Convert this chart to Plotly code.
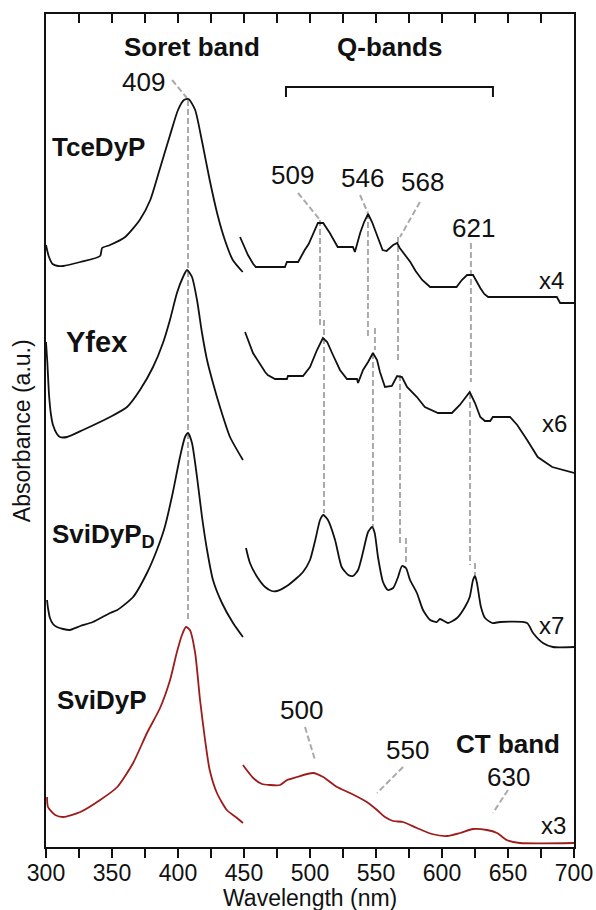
import plotly.graph_objects as go

# ---------------- spectra (wavelength in nm, stacked absorbance in a.u.) ----------------
# TceDyP
tce_soret_wl = [300, 302, 305, 309, 313, 326, 341, 342.5, 348.5, 360, 371, 379, 386, 394, 400,
                404.5, 408, 413, 418, 424, 430, 435.5, 441.5, 449]
tce_soret_abs = [6.02, 5.91, 5.83, 5.81, 5.81, 5.85, 5.91, 5.99, 6.02, 6.10, 6.27, 6.47, 6.77, 7.12, 7.37,
                 7.47, 7.48, 7.37, 7.07, 6.67, 6.32, 6.07, 5.87, 5.75]
tce_q_wl = [447, 450, 453, 457, 459, 481, 482.5, 491, 493, 496, 499, 502, 506, 510, 515, 521, 532.5,
            534, 538, 541, 544, 547, 550, 555, 558, 563, 566, 568, 576, 580, 585, 591, 611, 615, 619,
            623.5, 629, 632, 635, 687, 689.5, 700]
tce_q_abs = [6.10, 6.00, 5.92, 5.83, 5.80, 5.80, 5.85, 5.85, 5.90, 5.97, 6.03, 6.12, 6.24, 6.24, 6.14,
             6.00, 6.00, 5.95, 6.14, 6.25, 6.33, 6.25, 6.15, 5.97, 5.96, 6.02, 6.04, 5.99, 5.85, 5.76,
             5.67, 5.60, 5.60, 5.67, 5.72, 5.72, 5.59, 5.53, 5.50, 5.50, 5.44, 5.44]

# Yfex
yfex_soret_wl = [300, 301, 302.3, 303.8, 305.3, 308.3, 310.6, 316, 328, 348.5, 361.4, 371.2, 381.1,
                 388.6, 393.9, 399.2, 403.8, 406.8, 410.6, 414.4, 418.2, 422, 426.5, 431.8, 439.4, 449.2]
yfex_soret_abs = [5.05, 4.85, 4.52, 4.32, 4.22, 4.13, 4.10, 4.10, 4.17, 4.30, 4.40, 4.57, 4.80,
                  5.04, 5.27, 5.54, 5.70, 5.77, 5.70, 5.47, 5.14, 4.87, 4.64, 4.40, 4.10, 3.87]
yfex_q_wl = [450.8, 456.8, 466, 468, 473.5, 482.5, 483.3, 494.7, 500, 505.3, 509.8, 513, 517.4, 522.7,
             528, 535.6, 536.4, 540.2, 544, 547.7, 550.8, 553, 556.8, 562, 566, 569.7, 573.5, 581, 587,
             597, 607.5, 613.5, 621, 625, 629, 632.5, 636.5, 638.5, 651.5, 657, 664.5, 672.5, 683.5,
             689.5, 694.5, 700]
yfex_q_abs = [5.15, 4.94, 4.75, 4.72, 4.68, 4.68, 4.71, 4.71, 4.80, 4.97, 5.09, 5.05, 4.92, 4.77,
              4.68, 4.68, 4.64, 4.77, 4.85, 4.94, 4.87, 4.75, 4.60, 4.61, 4.71, 4.70, 4.60, 4.50, 4.40,
              4.34, 4.34, 4.42, 4.55, 4.44, 4.30, 4.26, 4.26, 4.30, 4.30, 4.22, 4.07, 3.90, 3.80,
              3.78, 3.76, 3.74]

# SviDyP_D
svd_soret_wl = [300.8, 301.5, 303, 305.3, 308.3, 313, 318, 326, 335.5, 348.5, 354, 366, 376.5, 384,
                390, 396, 401.5, 405.3, 407.6, 410.6, 414.4, 418.2, 422, 426.5, 433.3, 441.7, 449.2]
svd_soret_abs = [2.47, 2.39, 2.29, 2.23, 2.20, 2.18, 2.17, 2.21, 2.25, 2.34, 2.37, 2.50, 2.74, 2.97,
                 3.20, 3.54, 3.90, 4.10, 4.14, 4.04, 3.70, 3.30, 2.97, 2.67, 2.44, 2.24, 2.10]
svd_q_wl = [451.5, 454.5, 460, 466, 471, 475, 482.5, 490, 494.7, 500, 504, 507.6, 510, 513.6, 519,
            524, 529, 532.6, 536.4, 540, 544, 547, 549, 551.5, 555.3, 559, 563, 566.7, 569.7, 572.7,
            575.8, 581, 585.6, 591, 596, 598.5, 604.5, 611.4, 617.4, 621, 623.5, 625, 626.5, 629.5,
            632.6, 638, 644, 664.4, 669, 676.5, 684, 700]
svd_q_abs = [2.99, 2.84, 2.70, 2.60, 2.56, 2.56, 2.61, 2.69, 2.75, 2.87, 3.07, 3.27, 3.32, 3.27, 3.07,
             2.80, 2.72, 2.71, 2.77, 2.94, 3.15, 3.20, 3.14, 2.90, 2.65, 2.57, 2.59, 2.70, 2.81, 2.79,
             2.67, 2.54, 2.37, 2.27, 2.25, 2.28, 2.24, 2.29, 2.40, 2.50, 2.67, 2.71, 2.64, 2.40,
             2.29, 2.24, 2.25, 2.24, 2.14, 2.04, 2.00, 2.00]

# SviDyP
svi_soret_wl = [300.8, 301.5, 307, 313, 326, 341, 354, 366, 376.5, 386.4, 394, 399, 403,
                406, 409, 413, 416.7, 420.5, 424, 429.5, 437, 444.7, 449.2]
svi_soret_abs = [0.50, 0.40, 0.32, 0.30, 0.35, 0.47, 0.60, 0.84, 1.14, 1.39, 1.67, 1.94,
                 2.12, 2.20, 2.17, 1.94, 1.47, 1.07, 0.77, 0.54, 0.37, 0.29, 0.24]
svi_q_wl = [449.2, 457, 463.6, 469.7, 477.3, 482.6, 490, 502.3, 510, 520.5, 530.3, 543, 550.8, 556.8,
            563, 570.5, 581, 592.4, 603.8, 613.6, 623.5, 634, 641.7, 649, 659, 700]
svi_q_abs = [0.82, 0.69, 0.63, 0.62, 0.62, 0.67, 0.70, 0.74, 0.70, 0.60, 0.54, 0.45, 0.37, 0.30,
             0.26, 0.25, 0.19, 0.13, 0.11, 0.14, 0.18, 0.17, 0.14, 0.07, 0.04, 0.04]

# ---------------- peak markers ----------------
soret_line_wl = 407.6
soret_line_abs = [7.47, 2.27]

# vertical guides linking Q-band maxima between spectra: (wavelength, top, bottom)
q_guides = [
    (507.6, 6.27, 5.22), (510.6, 5.27, 3.34),
    (543.9, 6.34, 5.10), (549.2, 5.19, 4.97), (547.7, 4.94, 3.20),
    (566.7, 6.10, 4.87), (568.2, 4.72, 3.04), (572.7, 3.09, 2.84),
    (621.9, 6.04, 4.65), (621.2, 4.54, 2.82), (625.0, 2.84, 2.72),
]

# slanted leaders from peak labels: (wl0, a0, wl1, a1)
leaders = [
    (395.5, 7.67, 406.8, 7.49),
    (490.9, 6.54, 507.6, 6.27),
    (537.9, 6.52, 543.9, 6.34),
    (583.3, 6.45, 568.2, 6.10),
    (496.2, 1.20, 503.8, 0.87),
    (570.5, 0.80, 550.8, 0.54),
    (650.0, 0.57, 638.6, 0.34),
]

peak_labels = ["409", "509", "546", "568", "621", "500", "550", "630"]
peak_label_wl = [374.2, 487.1, 539.4, 585.6, 623.5, 493.2, 573.5, 650.0]
peak_label_abs = [7.65, 6.72, 6.69, 6.65, 6.19, 1.37, 0.97, 0.70]

scale_labels = ["x4", "x6", "x7", "x3"]
scale_label_wl = [683.3, 685.6, 683.3, 684.1]
scale_label_abs = [5.67, 4.24, 2.22, 0.22]

sample_names = ["TceDyP", "Yfex", "SviDyP<sub>D</sub>", "SviDyP"]
sample_wl = [340.0, 338.6, 343.6, 342.4]
sample_abs = [7.00, 5.05, 3.12, 1.47]
sample_size = [26, 29, 26, 26]

band_titles = ["Soret band", "Q-bands", "CT band"]
band_wl = [410.6, 560.6, 650.0]
band_abs = [8.00, 8.00, 1.03]

q_bracket = (481.8, 638.6, 7.60, 7.50)

FONT = "Liberation Sans, Arial, sans-serif"
BLACK = "#111111"
RED = "#9e1b1b"
GUIDE = "#aaaaaa"

fig = go.Figure()

curves = [
    (tce_soret_wl, tce_soret_abs, BLACK, "spline"),
    (tce_q_wl, tce_q_abs, BLACK, "linear"),
    (yfex_soret_wl, yfex_soret_abs, BLACK, "spline"),
    (yfex_q_wl, yfex_q_abs, BLACK, "linear"),
    (svd_soret_wl, svd_soret_abs, BLACK, "spline"),
    (svd_q_wl, svd_q_abs, BLACK, "spline"),
    (svi_soret_wl, svi_soret_abs, RED, "spline"),
    (svi_q_wl, svi_q_abs, RED, "spline"),
]

# dashed guides go under the spectra
fig.add_trace(go.Scatter(x=[soret_line_wl, soret_line_wl], y=soret_line_abs, mode="lines",
                         line=dict(color=GUIDE, width=2, dash="6px,3px"), hoverinfo="skip"))
for wl, a0, a1 in q_guides:
    fig.add_trace(go.Scatter(x=[wl, wl], y=[a0, a1], mode="lines",
                             line=dict(color=GUIDE, width=2, dash="6px,3px"), hoverinfo="skip"))
for w0, a0, w1, a1 in leaders:
    fig.add_trace(go.Scatter(x=[w0, w1], y=[a0, a1], mode="lines",
                             line=dict(color=GUIDE, width=2, dash="6px,3px"), hoverinfo="skip"))

for wl, ab, col, shape in curves:
    kw = dict(shape=shape, color=col, width=1.8)
    if shape == "spline":
        kw["smoothing"] = 0.6
    fig.add_trace(go.Scatter(x=wl, y=ab, mode="lines", line=kw, hoverinfo="skip"))

# bracket over the Q-band region
b0, b1, btop, bbot = q_bracket
fig.add_trace(go.Scatter(x=[b0, b0, b1, b1], y=[bbot, btop, btop, bbot], mode="lines",
                         line=dict(color=BLACK, width=2), hoverinfo="skip"))

# axis carrying the inward ticks along the top edge
fig.add_trace(go.Scatter(x=[300, 700], y=[0, 0], xaxis="x2", mode="lines",
                         line=dict(width=0), hoverinfo="skip", showlegend=False))

ann = []
for t, x, y in zip(peak_labels, peak_label_wl, peak_label_abs):
    ann.append(dict(x=x, y=y, text=t, showarrow=False, font=dict(size=26, color=BLACK, family=FONT)))
for t, x, y in zip(scale_labels, scale_label_wl, scale_label_abs):
    ann.append(dict(x=x, y=y, text=t, showarrow=False, font=dict(size=24, color=BLACK, family=FONT)))
for t, x, y, s in zip(sample_names, sample_wl, sample_abs, sample_size):
    ann.append(dict(x=x, y=y, text="<b>%s</b>" % t, showarrow=False,
                    font=dict(size=s, color=BLACK, family=FONT)))
for t, x, y in zip(band_titles, band_wl, band_abs):
    ann.append(dict(x=x, y=y, text="<b>%s</b>" % t, showarrow=False,
                    font=dict(size=26, color=BLACK, family=FONT)))

ann.append(dict(xref="paper", yref="paper", x=-0.046, y=0.5, text="Absorbance (a.u.)",
                textangle=-90, showarrow=False, xanchor="center", yanchor="middle",
                font=dict(size=23, color=BLACK, family=FONT)))
ann.append(dict(xref="paper", yref="paper", x=0.5, y=-0.0615, text="Wavelength (nm)",
                showarrow=False, xanchor="center", yanchor="middle",
                font=dict(size=23, color=BLACK, family=FONT)))

fig.update_layout(
    template="none",
    width=596, height=910,
    margin=dict(l=46, r=22, t=14, b=63, autoexpand=False),
    paper_bgcolor="white", plot_bgcolor="white",
    showlegend=False,
    annotations=ann,
    xaxis=dict(range=[300, 700], tick0=300, dtick=50, ticks="outside", ticklen=9, tickwidth=1.5,
               tickcolor=BLACK, showline=True, linewidth=2, linecolor=BLACK, mirror=True,
               showgrid=False, zeroline=False, automargin=False, ticklabelstandoff=-5,
               minor=dict(dtick=25, ticks="outside", ticklen=9, tickwidth=1.5, tickcolor=BLACK,
                          showgrid=False),
               tickfont=dict(size=23, color=BLACK, family=FONT)),
    xaxis2=dict(range=[300, 700], overlaying="x", side="top", tick0=300, dtick=25, ticks="inside",
                ticklen=9, tickwidth=1.5, tickcolor=BLACK, showticklabels=False, showgrid=False,
                zeroline=False, showline=False, automargin=False),
    yaxis=dict(range=[0, 8.33], showticklabels=False, ticks="", showline=True, linewidth=2,
               linecolor=BLACK, mirror=True, showgrid=False, zeroline=False, automargin=False),
)

fig.write_html("out.html")
